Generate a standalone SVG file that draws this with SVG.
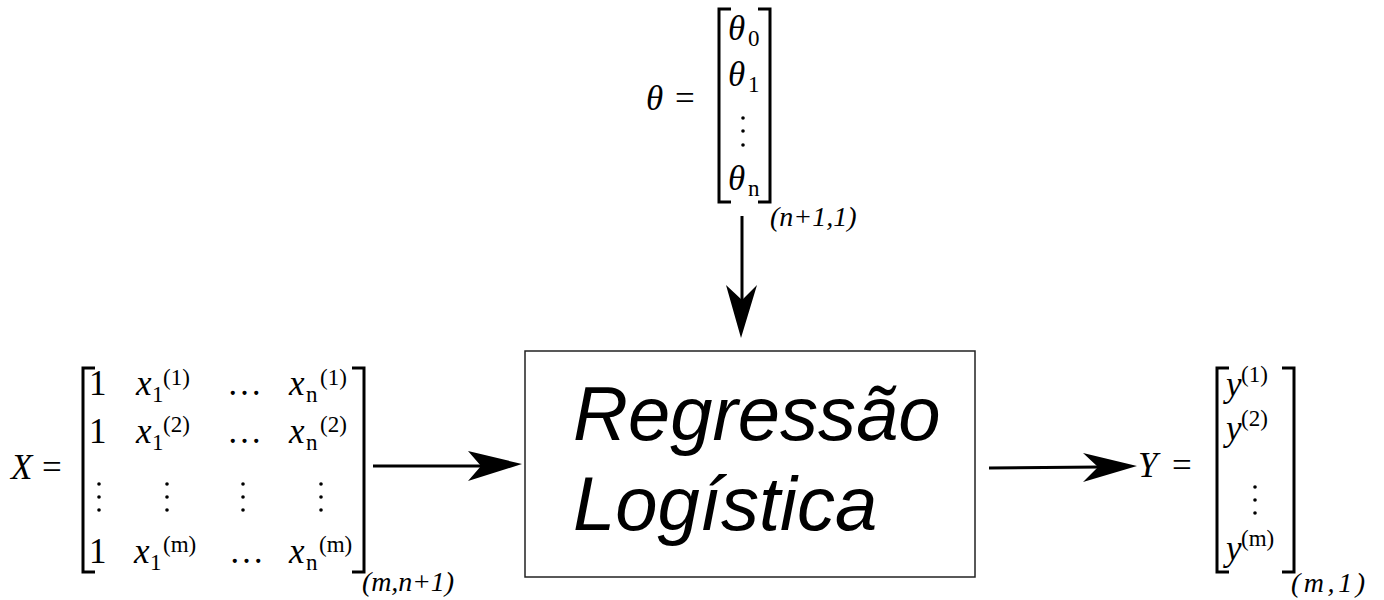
<svg xmlns="http://www.w3.org/2000/svg" width="1384" height="600" viewBox="0 0 1384 600">
<style>
text{font-family:"Liberation Serif","Times New Roman",serif;fill:#000}
.mi{font-style:italic;font-size:35px}
.rm{font-size:35px}
.sb{font-size:23px}
.dim{font-style:italic;font-size:28px}
.br{fill:none;stroke:#000;stroke-width:3}
.ln{stroke:#000;stroke-width:3;fill:none}
.hd{fill:#000}
.lbl{font-family:"Liberation Sans",Arial,sans-serif;font-style:italic;font-size:76px}
</style>
<rect width="1384" height="600" fill="#fff"/>
<g id="theta">
<text class="mi" x="646" y="110">θ</text>
<text class="rm" x="675" y="110">=</text>
<path class="br" d="M731,9 H719 V202 H731"/>
<path class="br" d="M758,9 H770 V202 H758"/>
<text class="mi" x="728" y="40">θ</text><text class="sb" x="748" y="46">0</text>
<text class="mi" x="728" y="86">θ</text><text class="sb" x="748" y="92">1</text>
<circle cx="743" cy="118" r="1.8"/><circle cx="743" cy="131" r="1.8"/><circle cx="743" cy="145" r="1.8"/>
<text class="mi" x="728" y="190">θ</text><text class="sb" x="748" y="196">n</text>
<text class="dim" x="770" y="226">(n+1,1)</text>
</g>
<g id="X">
<text class="mi" x="11" y="479">X</text>
<text class="rm" x="42" y="479">=</text>
<path class="br" d="M95,368 H83 V572 H95"/>
<path class="br" d="M352,368 H364 V572 H352"/>
<text class="rm" x="89" y="395">1</text>
<text class="mi" x="136" y="395">x</text><text class="sb" x="152" y="402">1</text><text class="sb" x="163" y="385">(1)</text>
<text class="rm" x="227" y="395">…</text>
<text class="mi" x="289" y="395">x</text><text class="sb" x="306" y="402">n</text><text class="sb" x="320" y="385">(1)</text>
<text class="rm" x="89" y="443">1</text>
<text class="mi" x="136" y="443">x</text><text class="sb" x="152" y="450">1</text><text class="sb" x="163" y="432">(2)</text>
<text class="rm" x="227" y="443">…</text>
<text class="mi" x="289" y="443">x</text><text class="sb" x="306" y="450">n</text><text class="sb" x="320" y="432">(2)</text>
<g>
<circle cx="99" cy="484" r="1.8"/><circle cx="99" cy="497" r="1.8"/><circle cx="99" cy="510" r="1.8"/>
<circle cx="167" cy="484" r="1.8"/><circle cx="167" cy="497" r="1.8"/><circle cx="167" cy="510" r="1.8"/>
<circle cx="243" cy="484" r="1.8"/><circle cx="243" cy="497" r="1.8"/><circle cx="243" cy="510" r="1.8"/>
<circle cx="321" cy="484" r="1.8"/><circle cx="321" cy="497" r="1.8"/><circle cx="321" cy="510" r="1.8"/>
</g>
<text class="rm" x="89" y="563">1</text>
<text class="mi" x="134" y="563">x</text><text class="sb" x="150" y="570">1</text><text class="sb" x="163" y="552">(m)</text>
<text class="rm" x="229" y="563">…</text>
<text class="mi" x="289" y="563">x</text><text class="sb" x="306" y="570">n</text><text class="sb" x="319" y="552">(m)</text>
<text class="dim" x="362" y="591" textLength="92">(m,n+1)</text>
</g>
<g id="box">
<rect x="525" y="351" width="450" height="226" fill="#fff" stroke="#222" stroke-width="1.5"/>
<text class="lbl" x="573" y="440">Regressão</text>
<text class="lbl" x="573" y="530">Logística</text>
</g>
<g id="Y">
<text class="mi" x="1138" y="477">Y</text>
<text class="rm" x="1172" y="477">=</text>
<path class="br" d="M1229,368 H1217 V572 H1229"/>
<path class="br" d="M1282,368 H1294 V572 H1282"/>
<text class="mi" x="1226" y="396">y</text><text class="sb" x="1241" y="382">(1)</text>
<text class="mi" x="1226" y="440">y</text><text class="sb" x="1241" y="426">(2)</text>
<circle cx="1255" cy="487" r="1.8"/><circle cx="1255" cy="500" r="1.8"/><circle cx="1255" cy="513" r="1.8"/>
<text class="mi" x="1226" y="560">y</text><text class="sb" x="1241" y="546">(m)</text>
<text class="dim" x="1291" y="592" textLength="74">(m,1)</text>
</g>
<g id="connectors">
<line class="ln" x1="742" y1="216" x2="742" y2="300"/>
<polygon class="hd" points="741,338 757,285 742,300 726,285"/>
<line class="ln" x1="373" y1="466" x2="485" y2="466"/>
<polygon class="hd" points="522,464 468,451 481,466 468,481"/>
<line class="ln" x1="989" y1="468" x2="1100" y2="467"/>
<polygon class="hd" points="1137,466 1083,453 1098,467 1083,482"/>
</g>
</svg>
